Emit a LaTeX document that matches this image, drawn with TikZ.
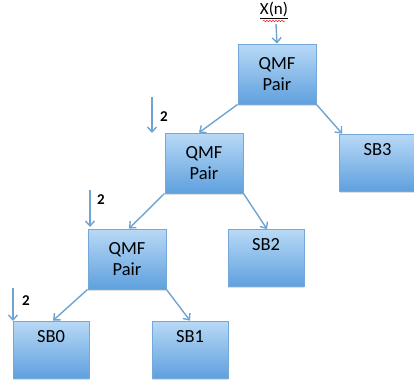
\documentclass[tikz,border=0pt]{standalone}
\usepackage{fontspec}
\setmainfont{Carlito}
\usetikzlibrary{arrows.meta,shadows,decorations.pathmorphing}
\definecolor{boxtop}{HTML}{B8D9F6}
\definecolor{boxbot}{HTML}{5FA0DE}
\definecolor{boxline}{HTML}{73A8D8}
\definecolor{arr}{HTML}{6FA3D0}
\begin{document}
\begin{tikzpicture}[x=1pt,y=-1pt,
  blk/.style={draw=boxline, line width=0.8pt, top color=boxtop, bottom color=boxbot,
    minimum width=78pt, minimum height=60pt, inner sep=0pt, align=center,
    font=\fontsize{18.5}{21}\selectfont, text=black,
    drop shadow={shadow xshift=0pt, shadow yshift=-1.5pt, opacity=0.25}},
  sbk/.style={blk, minimum width=76pt, minimum height=57pt, text height=12pt, text depth=27pt},
  qmf/.style={blk},
  con/.style={draw=arr, line width=1.4pt, -{Straight Barb[length=5pt,width=9pt]}},
  lab/.style={font=\fontsize{15}{17}\selectfont\bfseries, text=black}
]
\useasboundingbox (0,0) rectangle (414,384);
% boxes
\node[qmf] (q1) at (277,74) {QMF\\Pair};
\node[qmf] (q2) at (204,163) {QMF\\Pair};
\node[qmf] (q3) at (127,259) {QMF\\Pair};
\node[sbk] (sb3) at (377.5,162.5) {SB3};
\node[sbk] (sb2) at (266,258) {SB2};
\node[sbk] (sb1) at (190,349.5) {SB1};
\node[sbk] (sb0) at (51,349.5) {SB0};
% input
\node[font=\fontsize{17}{19}\selectfont, text=black, inner sep=1pt] (x) at (274,10) {\underline{X(n)}};
\draw[red, line width=0.5pt, decorate, decoration={snake, amplitude=0.6pt, segment length=3pt}] (263,21) -- (285,21);
\coordinate (xs) at (276,24);
\draw[con] (xs) -- (q1.north);
% tree connectors
\draw[con] (q1.south west) -- ([xshift=-5pt]q2.north);
\draw[con] (q1.south east) -- ([xshift=3pt]sb3.north west);
\draw[con] (q2.south west) -- ([xshift=2pt]q3.north);
\draw[con] (q2.south east) -- ([xshift=1pt]sb2.north);
\draw[con] (q3.south west) -- ([xshift=2pt]sb0.north);
\draw[con] (q3.south east) -- ([xshift=0pt]sb1.north);
% downsampling arrows
\coordinate (d1s) at (152,97);
\coordinate (d2s) at (90,190);
\coordinate (d3s) at (13,288);
\coordinate (d1e) at (152,133);
\coordinate (d2e) at (90,227);
\coordinate (d3e) at (13,321);
\draw[con] (d1s) -- (d1e);
\draw[con] (d2s) -- (d2e);
\draw[con] (d3s) -- (d3e);
\node[lab] (l1) at (164,117) {2};
\node[lab] (l2) at (101,200) {2};
\node[lab] (l3) at (26,301) {2};
\end{tikzpicture}
\end{document}
